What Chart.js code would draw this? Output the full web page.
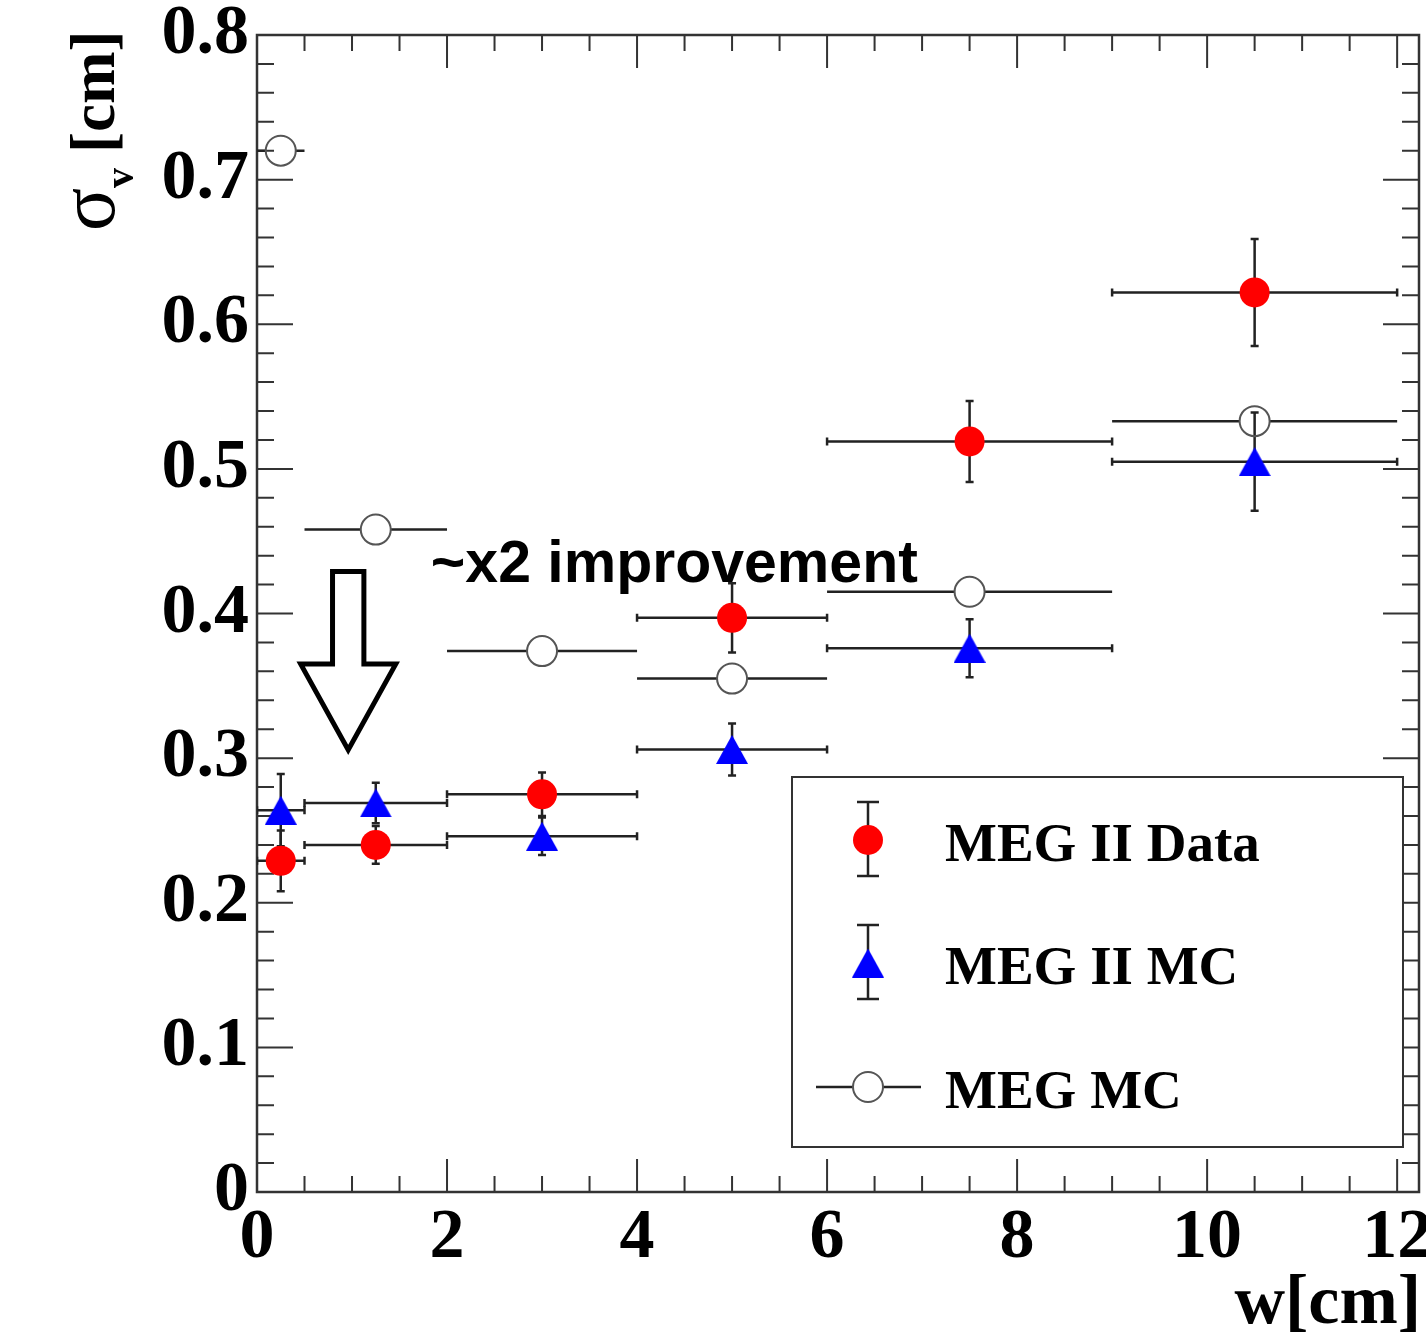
<!DOCTYPE html>
<html>
<head>
<meta charset="utf-8">
<script src="https://cdn.jsdelivr.net/npm/chart.js@4.4.0/dist/chart.umd.js"></script>
<style>
  html, body { margin: 0; padding: 0; background: #fff; }
  #wrap { width: 1426px; height: 1340px; }
</style>
</head>
<body>
<div id="wrap"><canvas id="c" width="1426" height="1340"></canvas></div>
<script>
// w bins [cm]
const binCenters = [0.25, 1.25, 3, 5, 7.5, 10.5];
const binLow = [0, 0.5, 2, 4, 6, 9];
const binHigh = [0.5, 2, 4, 6, 9, 12];

// MEG II Data
const dataSigma = [0.229, 0.240, 0.275, 0.397, 0.519, 0.622];
const dataErr = [0.021, 0.013, 0.015, 0.024, 0.028, 0.037];

// MEG II MC
const mc2Sigma = [0.264, 0.269, 0.246, 0.306, 0.376, 0.505];
const mc2Err = [0.025, 0.014, 0.013, 0.018, 0.020, 0.034];

// MEG MC
const megSigma = [0.720, 0.458, 0.374, 0.355, 0.415, 0.533];

const xTicks = [0, 2, 4, 6, 8, 10, 12];
const yTicks = [0, 0.1, 0.2, 0.3, 0.4, 0.5, 0.6, 0.7, 0.8];
const legendLabels = ['MEG II Data', 'MEG II MC', 'MEG MC'];
const noteText = '~x2 improvement';

const SERIF = '"Liberation Serif", "Times New Roman", serif';
const SANS = '"Liberation Sans", Arial, sans-serif';
const LINE = '#222';

// ROOT-like filled triangle marker, centred on its box
function makeTriangle(w, h, color) {
  const cv = document.createElement('canvas');
  cv.width = w; cv.height = h;
  const g = cv.getContext('2d');
  g.fillStyle = color;
  g.beginPath();
  g.moveTo(w / 2, 0);
  g.lineTo(w, h);
  g.lineTo(0, h);
  g.closePath();
  g.fill();
  return cv;
}
const triangle = makeTriangle(32, 29, '#0000ff');

const points = ys => binCenters.map((x, i) => ({ x, y: ys[i] }));

// error bars, drawn under the markers
const errorBars = {
  id: 'errorBars',
  beforeDatasetsDraw(chart) {
    const { ctx, chartArea: a, scales: { x, y } } = chart;
    ctx.save();
    ctx.beginPath();
    ctx.rect(a.left, a.top, a.right - a.left, a.bottom - a.top);
    ctx.clip();
    ctx.strokeStyle = LINE;
    ctx.lineWidth = 2.5;
    const cap = 4;

    const withErrors = (ys, errs) => {
      ys.forEach((v, i) => {
        const px = x.getPixelForValue(binCenters[i]);
        const py = y.getPixelForValue(v);
        const x0 = x.getPixelForValue(binLow[i]);
        const x1 = x.getPixelForValue(binHigh[i]);
        const y0 = y.getPixelForValue(v - errs[i]);
        const y1 = y.getPixelForValue(v + errs[i]);
        ctx.beginPath();
        ctx.moveTo(x0, py); ctx.lineTo(x1, py);
        ctx.moveTo(x0, py - cap); ctx.lineTo(x0, py + cap);
        ctx.moveTo(x1, py - cap); ctx.lineTo(x1, py + cap);
        ctx.moveTo(px, y0); ctx.lineTo(px, y1);
        ctx.moveTo(px - cap, y0); ctx.lineTo(px + cap, y0);
        ctx.moveTo(px - cap, y1); ctx.lineTo(px + cap, y1);
        ctx.stroke();
      });
    };
    withErrors(dataSigma, dataErr);
    withErrors(mc2Sigma, mc2Err);

    // MEG MC: horizontal bars only, stopped at the open marker
    const r = 15;
    megSigma.forEach((v, i) => {
      const px = x.getPixelForValue(binCenters[i]);
      const py = y.getPixelForValue(v);
      ctx.beginPath();
      ctx.moveTo(x.getPixelForValue(binLow[i]), py); ctx.lineTo(px - r, py);
      ctx.moveTo(px + r, py); ctx.lineTo(x.getPixelForValue(binHigh[i]), py);
      ctx.stroke();
    });
    ctx.restore();
  }
};

// frame with ticks on all four sides pointing inward
const frameTicks = {
  id: 'frameTicks',
  beforeDatasetsDraw(chart) {
    const { ctx, chartArea: a, scales: { x, y } } = chart;
    ctx.save();
    ctx.strokeStyle = '#333';
    ctx.lineWidth = 2;
    ctx.beginPath();
    for (let i = 0; i < yTicks.length; i++) {
      const py = y.getPixelForValue(yTicks[i]);
      ctx.moveTo(a.left, py); ctx.lineTo(a.left + 36, py);
      ctx.moveTo(a.right, py); ctx.lineTo(a.right - 36, py);
      if (i < yTicks.length - 1) {
        for (let k = 1; k < 5; k++) {
          const q = y.getPixelForValue(yTicks[i] + (yTicks[i + 1] - yTicks[i]) * k / 5);
          ctx.moveTo(a.left, q); ctx.lineTo(a.left + 17, q);
          ctx.moveTo(a.right, q); ctx.lineTo(a.right - 17, q);
        }
      }
    }
    for (let i = 0; i < xTicks.length; i++) {
      const px = x.getPixelForValue(xTicks[i]);
      ctx.moveTo(px, a.bottom); ctx.lineTo(px, a.bottom - 33);
      ctx.moveTo(px, a.top); ctx.lineTo(px, a.top + 33);
      if (i < xTicks.length - 1) {
        for (let k = 1; k < 4; k++) {
          const q = x.getPixelForValue(xTicks[i] + (xTicks[i + 1] - xTicks[i]) * k / 4);
          ctx.moveTo(q, a.bottom); ctx.lineTo(q, a.bottom - 16);
          ctx.moveTo(q, a.top); ctx.lineTo(q, a.top + 16);
        }
      }
    }
    ctx.stroke();
    ctx.lineWidth = 2.5;
    ctx.strokeRect(a.left, a.top, a.right - a.left, a.bottom - a.top);
    ctx.restore();
  }
};

// titles, arrow note and the legend box
const overlay = {
  id: 'overlay',
  afterDraw(chart) {
    const { ctx, scales: { x, y } } = chart;
    ctx.save();

    // y title: sigma_v[cm], rotated
    ctx.translate(114, 231);
    ctx.rotate(-Math.PI / 2);
    ctx.fillStyle = '#000';
    ctx.textBaseline = 'alphabetic';
    ctx.font = `80px ${SERIF}`;
    ctx.fillText('σ', 0, 0);
    const ws = ctx.measureText('σ').width;
    ctx.font = `bold 40px ${SERIF}`;
    ctx.fillText('v', ws, 19);
    ctx.font = `bold 63px ${SERIF}`;
    ctx.fillText('[cm]', 78, 0);
    ctx.setTransform(1, 0, 0, 1, 0, 0);

    // x title
    ctx.font = `bold 70px ${SERIF}`;
    ctx.textAlign = 'right';
    ctx.fillText('w[cm]', 1421, 1323);

    // note and hollow arrow
    ctx.textAlign = 'left';
    ctx.font = `bold 59px ${SANS}`;
    ctx.fillText(noteText, x.getPixelForValue(1.83), y.getPixelForValue(0.422));

    const ax = 0.96;
    const pts = [
      [ax - 0.165, 0.429], [ax + 0.165, 0.429], [ax + 0.165, 0.365],
      [ax + 0.5, 0.365], [ax, 0.3057], [ax - 0.5, 0.365], [ax - 0.165, 0.365]
    ];
    ctx.beginPath();
    pts.forEach(([u, v], i) => {
      const px = x.getPixelForValue(u), py = y.getPixelForValue(v);
      i ? ctx.lineTo(px, py) : ctx.moveTo(px, py);
    });
    ctx.closePath();
    ctx.lineWidth = 5;
    ctx.lineJoin = 'miter';
    ctx.strokeStyle = '#000';
    ctx.stroke();

    // legend
    const L = 792, T = 777, R = 1403, B = 1147;
    ctx.fillStyle = '#fff';
    ctx.fillRect(L, T, R - L, B - T);
    ctx.strokeStyle = '#333';
    ctx.lineWidth = 2;
    ctx.strokeRect(L, T, R - L, B - T);

    const mx = 868;
    const rows = [840, 963, 1087];
    ctx.strokeStyle = LINE;
    ctx.lineWidth = 2.5;
    [0, 1].forEach(i => {
      const yc = rows[i];
      ctx.beginPath();
      ctx.moveTo(mx, yc - 38); ctx.lineTo(mx, yc + 36);
      ctx.moveTo(mx - 11, yc - 38); ctx.lineTo(mx + 11, yc - 38);
      ctx.moveTo(mx - 11, yc + 36); ctx.lineTo(mx + 11, yc + 36);
      ctx.stroke();
    });
    ctx.fillStyle = '#ff0000';
    ctx.beginPath();
    ctx.arc(mx, rows[0], 15, 0, Math.PI * 2);
    ctx.fill();
    ctx.drawImage(triangle, mx - triangle.width / 2, rows[1] - triangle.height / 2);
    ctx.beginPath();
    ctx.moveTo(816, rows[2]); ctx.lineTo(mx - 15, rows[2]);
    ctx.moveTo(mx + 15, rows[2]); ctx.lineTo(921, rows[2]);
    ctx.stroke();
    ctx.strokeStyle = '#555';
    ctx.lineWidth = 2;
    ctx.beginPath();
    ctx.arc(mx, rows[2], 15, 0, Math.PI * 2);
    ctx.stroke();

    ctx.fillStyle = '#000';
    ctx.font = `bold 55px ${SERIF}`;
    legendLabels.forEach((t, i) => ctx.fillText(t, 945, rows[i] + 21));
    ctx.restore();
  }
};

new Chart(document.getElementById('c'), {
  type: 'scatter',
  data: {
    datasets: [
      {
        label: 'MEG II Data',
        data: points(dataSigma),
        pointStyle: 'circle',
        pointRadius: 15,
        backgroundColor: '#ff0000',
        borderColor: '#ff0000',
        borderWidth: 0
      },
      {
        label: 'MEG II MC',
        data: points(mc2Sigma),
        pointStyle: triangle,
        pointRadius: 15
      },
      {
        label: 'MEG MC',
        data: points(megSigma),
        pointStyle: 'circle',
        pointRadius: 15,
        backgroundColor: 'rgba(0,0,0,0)',
        borderColor: '#555',
        borderWidth: 2
      }
    ]
  },
  options: {
    responsive: false,
    animation: false,
    devicePixelRatio: 1,
    events: [],
    layout: { autoPadding: false, padding: { top: 35, right: 7, left: 0, bottom: 0 } },
    plugins: {
      legend: { display: false },
      tooltip: { enabled: false }
    },
    scales: {
      x: {
        type: 'linear',
        min: 0,
        max: 12.23,
        afterBuildTicks: s => { s.ticks = xTicks.map(v => ({ value: v })); },
        afterFit: s => { s.height = 148; s.paddingLeft = 0; s.paddingRight = 0; },
        grid: { display: false, drawTicks: false },
        border: { display: false },
        ticks: {
          font: { family: SERIF, weight: 'bold', size: 70 },
          color: '#000',
          padding: 5,
          maxRotation: 0,
          autoSkip: false,
          callback: v => String(v)
        }
      },
      y: {
        type: 'linear',
        min: 0,
        max: 0.8,
        afterBuildTicks: s => { s.ticks = yTicks.map(v => ({ value: v })); },
        afterFit: s => { s.width = 257; s.paddingTop = 0; s.paddingBottom = 0; },
        grid: { display: false, drawTicks: false },
        border: { display: false },
        ticks: {
          font: { family: SERIF, weight: 'bold', size: 70 },
          color: '#000',
          padding: 8,
          autoSkip: false,
          callback: v => (v === 0 ? '0' : v.toFixed(1))
        }
      }
    }
  },
  plugins: [frameTicks, errorBars, overlay]
});
</script>
</body>
</html>
